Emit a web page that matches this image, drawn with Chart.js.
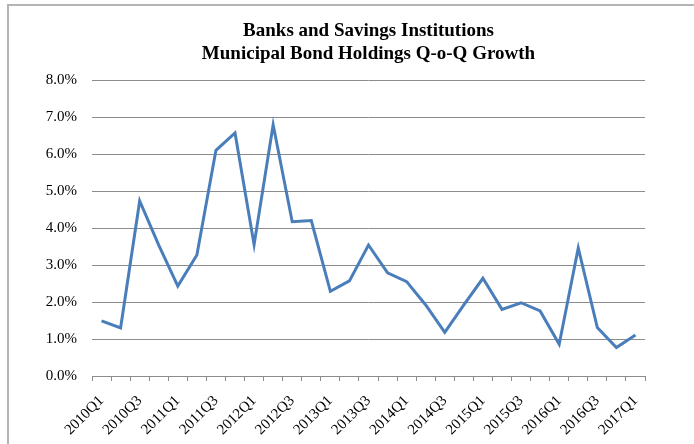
<!DOCTYPE html>
<html>
<head>
<meta charset="utf-8">
<script src="https://cdn.jsdelivr.net/npm/chart.js@4"></script>
<style>
  html, body { margin: 0; padding: 0; background: #fff; overflow: hidden; }
  canvas { display: block; }
</style>
</head>
<body>
<canvas id="growth" width="694" height="444"></canvas>
<script>
// Quarters shown on the x axis
const quarters = [
  "2010Q1", "2010Q2", "2010Q3", "2010Q4",
  "2011Q1", "2011Q2", "2011Q3", "2011Q4",
  "2012Q1", "2012Q2", "2012Q3", "2012Q4",
  "2013Q1", "2013Q2", "2013Q3", "2013Q4",
  "2014Q1", "2014Q2", "2014Q3", "2014Q4",
  "2015Q1", "2015Q2", "2015Q3", "2015Q4",
  "2016Q1", "2016Q2", "2016Q3", "2016Q4",
  "2017Q1",
];

// Quarter-over-quarter growth, percent
const growth = [
  1.49, 1.30, 4.73, 3.54,
  2.43, 3.27, 6.10, 6.57,
  3.55, 6.79, 4.17, 4.20,
  2.29, 2.57, 3.54, 2.79,
  2.55, 1.92, 1.18, 1.92,
  2.64, 1.80, 1.98, 1.76,
  0.86, 3.46, 1.31, 0.77,
  1.11,
];

const titleLines = [
  "Banks and Savings Institutions",
  "Municipal Bond Holdings Q-o-Q Growth",
];

const serif = "'Liberation Serif', 'Times New Roman', serif";

// Grey frame: only its top and left edges fall on the canvas
const chartFrame = {
  id: "chartFrame",
  beforeDraw(chart) {
    const ctx = chart.ctx;
    ctx.save();
    ctx.strokeStyle = "#b4b4b4";
    ctx.lineWidth = 2;
    ctx.beginPath();
    ctx.moveTo(8, chart.height);
    ctx.lineTo(8, 5);
    ctx.lineTo(chart.width, 5);
    ctx.stroke();
    ctx.restore();
  },
};

// Title drawn centred over the plot area rather than the whole canvas
const plotTitle = {
  id: "plotTitle",
  afterDraw(chart) {
    const ctx = chart.ctx;
    const area = chart.chartArea;
    const cx = (area.left + area.right) / 2;
    ctx.save();
    ctx.fillStyle = "#000";
    ctx.font = "bold 19px " + serif;
    ctx.textAlign = "center";
    ctx.textBaseline = "alphabetic";
    titleLines.forEach((line, i) => {
      ctx.fillText(line, cx, 36 + i * 22.5);
    });
    ctx.restore();
  },
};

new Chart(document.getElementById("growth"), {
  type: "line",
  data: {
    labels: quarters,
    datasets: [
      {
        data: growth,
        borderColor: "#4a7ebb",
        borderWidth: 3,
        pointRadius: 0,
        tension: 0,
        fill: false,
      },
    ],
  },
  options: {
    responsive: false,
    animation: false,
    layout: {
      padding: { left: 0, right: 49, top: 80, bottom: 0 },
    },
    plugins: {
      legend: { display: false },
      tooltip: { enabled: false },
      title: { display: false },
    },
    scales: {
      x: {
        offset: true,
        grid: {
          offset: true,
          drawOnChartArea: false,
          drawTicks: true,
          tickLength: 5,
          color: "#8c8c8c",
        },
        border: { display: true, color: "#8c8c8c", width: 1 },
        ticks: {
          autoSkip: false,
          minRotation: 45,
          maxRotation: 45,
          padding: 11,
          color: "#000",
          font: { family: serif, size: 15 },
          // every second quarter gets a label
          callback: function (value, index) {
            return index % 2 === 0 ? quarters[index] : "";
          },
        },
        afterFit: function (scale) {
          scale.height = 68;
        },
      },
      y: {
        min: 0,
        max: 8,
        grid: {
          color: "#8c8c8c",
          drawTicks: false,
        },
        border: { display: false },
        ticks: {
          stepSize: 1,
          padding: 15,
          color: "#000",
          font: { family: serif, size: 15 },
          callback: function (value) {
            return value.toFixed(1) + "%"; // percent with one decimal
          },
        },
        afterFit: function (scale) {
          scale.width = 92;
        },
      },
    },
  },
  plugins: [chartFrame, plotTitle],
});
</script>
</body>
</html>
